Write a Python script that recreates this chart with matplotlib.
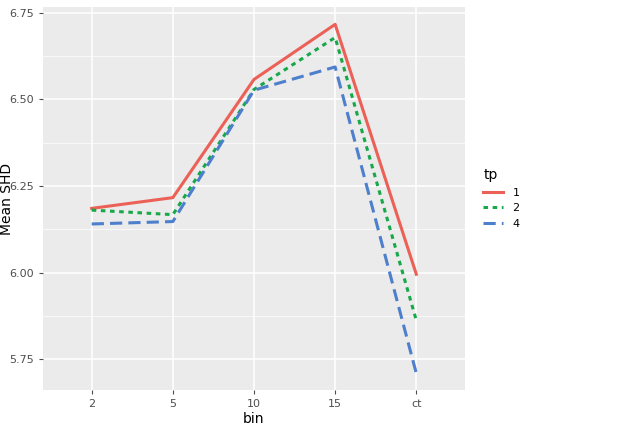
import matplotlib
matplotlib.use("Agg")
import matplotlib.pyplot as plt

bins = ["2", "5", "10", "15", "ct"]
tp_labels = ["1", "2", "4"]
shd_tp1 = [6.185, 6.216, 6.557, 6.716, 5.995]
shd_tp2 = [6.180, 6.167, 6.528, 6.678, 5.862]
shd_tp4 = [6.140, 6.147, 6.526, 6.593, 5.709]

colors = ["#EB6157", "#17A84A", "#4D7FCC"]
styles = ["-", (0, (1.5, 1.5)), (0, (4, 2))]

fig = plt.figure(figsize=(6.4, 4.33), dpi=100)
ax = fig.add_axes([43/640, 1 - 390/433, (465-43)/640, (390-7)/433])
ax.set_facecolor("#EBEBEB")
x = list(range(len(bins)))
for ys, c, ls, lab in zip([shd_tp1, shd_tp2, shd_tp4], colors, styles, tp_labels):
    ax.plot(x, ys, color=c, linestyle=ls, lw=2.2, label=lab)

ax.set_xlim(-0.6, 4.6)
ax.set_ylim(5.661, 6.766)
ax.set_xticks(x)
ax.set_xticklabels(bins)
ax.set_yticks([5.75, 6.00, 6.25, 6.50, 6.75])
ax.set_yticks([5.875, 6.125, 6.375, 6.625], minor=True)
ax.grid(True, which="major", color="white", lw=1.1)
ax.grid(True, which="minor", color="white", lw=0.5)
ax.set_axisbelow(True)
for s in ax.spines.values():
    s.set_visible(False)
ax.tick_params(colors="#4D4D4D", labelsize=8, length=3)
ax.tick_params(which="minor", length=0)
ax.set_xlabel("bin", fontsize=10, labelpad=2)
ax.set_ylabel("Mean SHD", fontsize=10)
ax.yaxis.set_label_coords(-0.068, 0.5)

leg = ax.legend(title="tp", loc="center left", bbox_to_anchor=(1.02, 0.5),
                frameon=False, fontsize=8, title_fontsize=10, handlelength=1.8)
leg._legend_box.align = "left"

fig.savefig("out.png", dpi=100)
